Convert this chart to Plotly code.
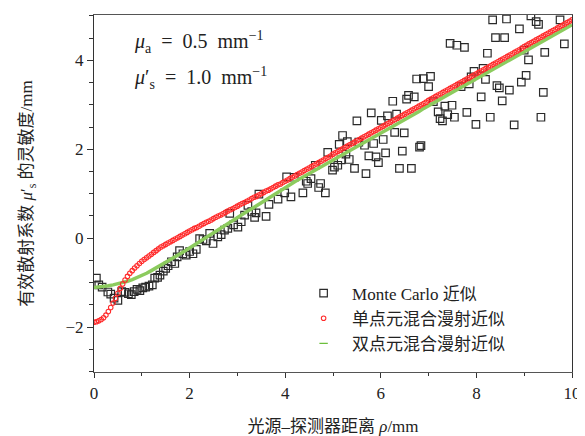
import numpy as np
import plotly.graph_objects as go

# Monte Carlo simulation points (x in mm, sensitivity in mm)
mc_x = [0.05, 0.10, 0.17, 0.29, 0.35, 0.42, 0.50, 0.58, 0.65, 0.72, 0.78, 0.84, 0.90, 0.96, 1.02, 1.08,
        1.15, 1.22, 1.27, 1.33, 1.38, 1.45, 1.50, 1.55, 1.62, 1.69, 1.74, 1.79, 1.86, 1.93, 2.00, 2.07,
        2.14, 2.21, 2.28, 2.35, 2.42, 2.49, 2.59, 2.66, 2.73, 2.80, 2.84, 2.92, 3.01, 3.08, 3.15, 3.22,
        3.30, 3.36, 3.39, 3.45, 3.60, 3.66, 3.85, 3.99, 4.03, 4.12, 4.19, 4.37, 4.44, 4.47, 4.54, 4.63,
        4.70, 4.74, 4.84, 4.89, 4.99, 5.03, 5.10, 5.13, 5.17, 5.20, 5.27, 5.30, 5.34, 5.45, 5.50, 5.54,
        5.66, 5.69, 5.75, 5.80, 5.85, 5.90, 5.95, 6.01, 6.05, 6.10, 6.14, 6.25, 6.29, 6.33, 6.39, 6.45,
        6.49, 6.54, 6.58, 6.64, 6.70, 6.75, 6.81, 6.84, 6.89, 7.00, 7.04, 7.10, 7.20, 7.24, 7.29, 7.34,
        7.40, 7.45, 7.49, 7.54, 7.59, 7.68, 7.75, 7.80, 7.85, 7.89, 7.95, 7.99, 8.10, 8.14, 8.19, 8.23,
        8.29, 8.34, 8.40, 8.43, 8.48, 8.54, 8.59, 8.63, 8.69, 8.79, 8.90, 8.94, 9.00, 9.04, 9.09, 9.14,
        9.25, 9.30, 9.35, 9.40, 9.43, 9.75, 9.84]
mc_y = [-0.90, -1.05, -1.10, -1.21, -1.26, -1.35, -1.40, -1.20, -1.22, -1.25, -1.27, -1.20, -1.15, -1.18, -1.12, -1.10,
        -1.08, -1.05, -0.90, -0.88, -0.83, -0.74, -0.68, -0.62, -0.53, -0.57, -0.42, -0.28, -0.35, -0.38, -0.30, -0.35,
        -0.25, -0.01, -0.03, -0.06, 0.11, -0.12, 0.03, 0.08, 0.18, 0.22, 0.56, 0.30, 0.25, 0.37, 0.52, 0.74,
        0.60, 0.47, 0.57, 0.99, 0.49, 0.76, 0.88, 1.02, 1.38, 0.93, 1.37, 1.02, 1.28, 1.23, 1.34, 1.64,
        1.14, 1.23, 1.02, 1.93, 1.53, 1.60, 1.64, 2.11, 1.76, 2.31, 1.89, 2.17, 1.77, 1.57, 2.64, 2.16,
        2.09, 1.45, 1.85, 2.82, 2.13, 1.83, 1.70, 2.65, 2.22, 1.92, 2.75, 3.08, 2.38, 2.79, 1.57, 1.96,
        2.37, 3.13, 3.21, 1.57, 3.18, 3.58, 2.05, 2.08, 3.59, 3.41, 3.64, 3.07, 2.84, 2.69, 2.64, 2.97,
        2.78, 4.38, 2.99, 2.72, 4.34, 3.41, 4.29, 2.83, 3.47, 3.63, 3.75, 2.56, 3.18, 3.82, 3.57, 4.16,
        2.72, 4.91, 4.51, 3.43, 3.38, 3.09, 4.51, 4.93, 3.33, 2.55, 4.71, 3.51, 4.23, 3.66, 4.01, 5.00,
        4.87, 4.81, 2.72, 3.28, 4.18, 4.91, 4.37]

# Single-point hybrid diffusion approximation (0.05 mm step)
single_x = np.round(np.arange(0, 10.0001, 0.05), 2)
single_y = [-1.89, -1.88, -1.86, -1.83, -1.79, -1.73, -1.65, -1.56, -1.46, -1.35,
            -1.24, -1.13, -1.03, -0.94, -0.86, -0.79, -0.73, -0.67, -0.62, -0.57,
            -0.52, -0.48, -0.44, -0.40, -0.36, -0.32, -0.28, -0.24, -0.20, -0.17,
            -0.14, -0.11, -0.08, -0.05, -0.02, 0.01, 0.04, 0.07, 0.10, 0.13,
            0.16, 0.19, 0.22, 0.24, 0.27, 0.30, 0.33, 0.36, 0.38, 0.41,
            0.44, 0.47, 0.50, 0.52, 0.55, 0.58, 0.61, 0.64, 0.66, 0.69,
            0.72, 0.75, 0.78, 0.80, 0.83, 0.86, 0.89, 0.92, 0.94, 0.97,
            1.00, 1.03, 1.06, 1.08, 1.11, 1.14, 1.17, 1.20, 1.22, 1.25,
            1.28, 1.31, 1.34, 1.37, 1.40, 1.43, 1.46, 1.49, 1.52, 1.55,
            1.58, 1.61, 1.64, 1.67, 1.70, 1.73, 1.76, 1.79, 1.82, 1.85,
            1.89, 1.92, 1.95, 1.98, 2.01, 2.04, 2.07, 2.10, 2.13, 2.16,
            2.19, 2.22, 2.25, 2.28, 2.31, 2.34, 2.37, 2.40, 2.43, 2.46,
            2.49, 2.52, 2.55, 2.58, 2.61, 2.64, 2.67, 2.70, 2.73, 2.76,
            2.79, 2.82, 2.85, 2.88, 2.91, 2.94, 2.97, 3.00, 3.03, 3.06,
            3.10, 3.13, 3.16, 3.19, 3.22, 3.25, 3.28, 3.31, 3.34, 3.37,
            3.40, 3.43, 3.46, 3.49, 3.52, 3.55, 3.58, 3.61, 3.64, 3.67,
            3.70, 3.73, 3.76, 3.79, 3.82, 3.85, 3.88, 3.91, 3.94, 3.97,
            4.00, 4.03, 4.06, 4.09, 4.12, 4.15, 4.18, 4.21, 4.24, 4.27,
            4.31, 4.34, 4.37, 4.40, 4.43, 4.46, 4.49, 4.52, 4.55, 4.58,
            4.61, 4.64, 4.67, 4.70, 4.73, 4.76, 4.79, 4.82, 4.85, 4.88,
            4.91]

# Two-point hybrid diffusion approximation (0.1 mm step)
double_x = np.round(np.arange(0, 10.0001, 0.1), 1)
double_y = [-1.11, -1.10, -1.09, -1.07, -1.05, -1.03, -1.00, -0.97, -0.93, -0.89,
            -0.84, -0.79, -0.73, -0.67, -0.61, -0.55, -0.49, -0.42, -0.36, -0.29,
            -0.22, -0.15, -0.09, -0.02, 0.05, 0.12, 0.19, 0.26, 0.32, 0.39,
            0.46, 0.53, 0.60, 0.66, 0.73, 0.80, 0.87, 0.94, 1.01, 1.08,
            1.15, 1.21, 1.27, 1.33, 1.39, 1.45, 1.51, 1.58, 1.64, 1.70,
            1.76, 1.82, 1.88, 1.94, 2.00, 2.06, 2.12, 2.18, 2.25, 2.31,
            2.37, 2.43, 2.49, 2.55, 2.61, 2.67, 2.73, 2.79, 2.85, 2.92,
            2.98, 3.04, 3.10, 3.16, 3.22, 3.28, 3.34, 3.40, 3.46, 3.53,
            3.59, 3.65, 3.71, 3.77, 3.83, 3.89, 3.95, 4.01, 4.07, 4.13,
            4.20, 4.26, 4.32, 4.38, 4.44, 4.50, 4.56, 4.62, 4.68, 4.74,
            4.80]

x_ticks = [0, 2, 4, 6, 8, 10]
y_ticks = [-2, 0, 2, 4]
y_tick_text = ["−2", "0", "2", "4"]

legend_names = ["Monte Carlo 近似", "单点元混合漫射近似", "双点元混合漫射近似"]

SERIF = "Liberation Serif, Noto Sans CJK SC, serif"
NB = "\u00a0"

fig = go.Figure()
fig.add_trace(go.Scatter(
    x=mc_x, y=mc_y, mode="markers", name=NB * 2 + legend_names[0], legendrank=1,
    marker=dict(symbol="square-open", size=7.5, color="#2a2a2a", line=dict(width=1.2))))
fig.add_trace(go.Scatter(
    x=double_x, y=double_y, mode="lines", showlegend=False,
    line=dict(color="#8ccb5e", width=3.5), hoverinfo="skip"))
fig.add_trace(go.Scatter(
    x=single_x, y=single_y, mode="markers", name=NB * 2 + legend_names[1], legendrank=2,
    marker=dict(symbol="circle-open", size=4.5, color="#ff2a2a", line=dict(width=1.1))))
fig.add_trace(go.Scatter(
    x=[None], y=[None], mode="markers", name=NB * 2 + legend_names[2], legendrank=3,
    marker=dict(symbol="line-ew-open", size=6, color="#6cbf3c", line=dict(width=1.3, color="#6cbf3c"))))

ann1 = "<i>μ</i><sub>a</sub>" + NB * 2 + "=" + NB * 2 + "0.5" + NB * 2 + "mm<sup>−1</sup>"
ann2 = "<i>μ</i>′<sub>s</sub>" + NB * 2 + "=" + NB * 2 + "1.0" + NB * 2 + "mm<sup>−1</sup>"

# page body has an 8px margin, so the figure is 8px smaller and margins shifted
fig.update_layout(
    width=577, height=428,
    margin=dict(l=86.3, r=12.5, t=7, b=64.3, autoexpand=False),
    paper_bgcolor="white", plot_bgcolor="white",
    font=dict(family=SERIF, size=17, color="#222"),
    showlegend=True,
    legend=dict(x=0.4385, y=0.27, xanchor="left", yanchor="top",
                bgcolor="rgba(0,0,0,0)", font=dict(size=17, family=SERIF),
                itemsizing="trace", tracegroupgap=0),
    annotations=[
        dict(text=ann1, x=0.079, y=0.924,
             xref="paper", yref="paper", xanchor="left", yanchor="middle",
             showarrow=False, font=dict(size=20, family=SERIF)),
        dict(text=ann2, x=0.079, y=0.823,
             xref="paper", yref="paper", xanchor="left", yanchor="middle",
             showarrow=False, font=dict(size=20, family=SERIF)),
    ],
)

fig.update_xaxes(
    range=[0, 10], tickvals=x_ticks, ticks="outside", ticklen=5, tickwidth=1,
    tickcolor="#333", showline=True, linecolor="#555", linewidth=1.3, mirror=True,
    showgrid=False, zeroline=False, automargin=False,
    minor=dict(dtick=1, ticks="outside", ticklen=3, tickcolor="#333", showgrid=False),
    title=dict(text="光源–探测器距离 <i>ρ</i>/mm", standoff=18, font=dict(size=17, family=SERIF)),
    tickfont=dict(size=17, family=SERIF))
fig.update_yaxes(
    range=[-3.01, 5.02], tickvals=y_ticks, ticktext=y_tick_text,
    ticks="outside", ticklen=6, tickwidth=1,
    tickcolor="#333", showline=True, linecolor="#333", linewidth=1.1, mirror=True,
    showgrid=False, zeroline=False, automargin=False,
    minor=dict(dtick=0.5, ticks="outside", ticklen=3.5, tickcolor="#333", showgrid=False),
    title=dict(text="有效散射系数 <i>μ</i>′<sub>s</sub> 的灵敏度/mm", standoff=28,
               font=dict(size=17, family=SERIF)),
    tickfont=dict(size=17, family=SERIF))

fig.write_html("out.html")
